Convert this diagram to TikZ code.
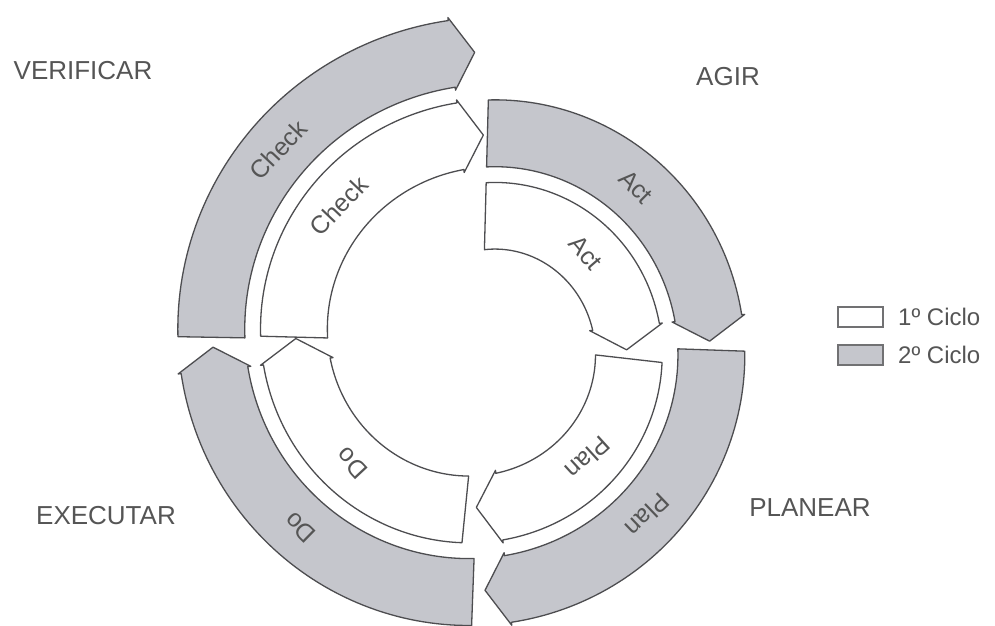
\documentclass[tikz,border=0pt]{standalone}
\usepackage{fontspec}
\setmainfont{Liberation Sans}
\definecolor{edge}{HTML}{4D4D50}
\definecolor{band}{HTML}{C5C6CC}
\definecolor{ink}{HTML}{555555}
\tikzset{
  seg/.style={draw=edge, line width=1.3pt, line join=round},
  seglabel/.style={text=ink, font=\fontsize{25}{25}\selectfont, inner sep=0pt},
  phase/.style={text=ink, font=\fontsize{26}{26}\selectfont, inner sep=0pt},
  keybox/.style={draw=edge!80, line width=1.2pt, minimum width=45pt, minimum height=20pt, inner sep=0pt},
  keytext/.style={text=ink, font=\fontsize{24}{24}\selectfont, inner sep=0pt, anchor=west},
}
% One quarter-turn of the spiral band: #1 index, #2 start offset (deg),
% #3 fill, #4 label, #5 label position (deg), #6 node name
\newcommand\spiralseg[6]{%
  \pgfmathsetmacro\segS{90*#1+#2}%
  \pgfmathsetmacro\segB{90*#1+84}%
  \pgfmathsetmacro\segRi{92+0.23*\segB}%
  \pgfmathsetmacro\segRo{\segRi+67}%
  \pgfmathsetmacro\segRm{\segRi+33.5}%
  \pgfmathsetmacro\segT{\segB+23/\segRm*57.2958}%
  \draw[seg, fill=#3]
    plot[domain=\segS:\segB, samples=60] ({90-\x}:{159+0.23*\x})
    -- ({90-\segB}:{\segRo+3}) -- ({90-\segT}:{\segRm}) -- ({90-\segB}:{\segRi-3})
    -- plot[domain=\segB:\segS, samples=60] ({90-\x}:{92+0.23*\x}) -- cycle;
  \pgfmathsetmacro\segL{90*#1+#5}%
  \pgfmathsetmacro\segRl{125.5+0.23*\segL}%
  \node[seglabel, rotate={-\segL}] (#6) at ({90-\segL}:{\segRl}) {#4};
}
\begin{document}
\begin{tikzpicture}[x=1pt, y=1pt]
  \useasboundingbox (0,0) rectangle (995,625);
  \begin{scope}[shift={(482,283)}]
    % first cycle (inner, white)
    \spiralseg{0}{1.5}{white}{Act}{49.4}{actA}
    \spiralseg{1}{6.5}{white}{Plan}{47.6}{planA}
    \spiralseg{2}{5.7}{white}{Do}{47}{doA}
    \spiralseg{3}{1.5}{white}{Check}{43.6}{checkA}
    % second cycle (outer, grey)
    \spiralseg{4}{1.5}{band}{Act}{44.8}{actB}
    \spiralseg{5}{2}{band}{Plan}{46.2}{planB}
    \spiralseg{6}{2.1}{band}{Do}{44.4}{doB}
    \spiralseg{7}{1}{band}{Check}{43.3}{checkB}
  \end{scope}
  % phase names
  \node[phase] (verificar) at (83,554) {VERIFICAR};
  \node[phase] (agir) at (728,548) {AGIR};
  \node[phase] (executar) at (106,109) {EXECUTAR};
  \node[phase] (planear) at (810,117) {PLANEAR};
  % legend
  \node[keybox, fill=white] (key1) at (860.5,308) {};
  \node[keybox, fill=band] (key2) at (860.5,270) {};
  \node[keytext] (key1t) at (898,308) {1º Ciclo};
  \node[keytext] (key2t) at (898,270) {2º Ciclo};
\end{tikzpicture}
\end{document}
